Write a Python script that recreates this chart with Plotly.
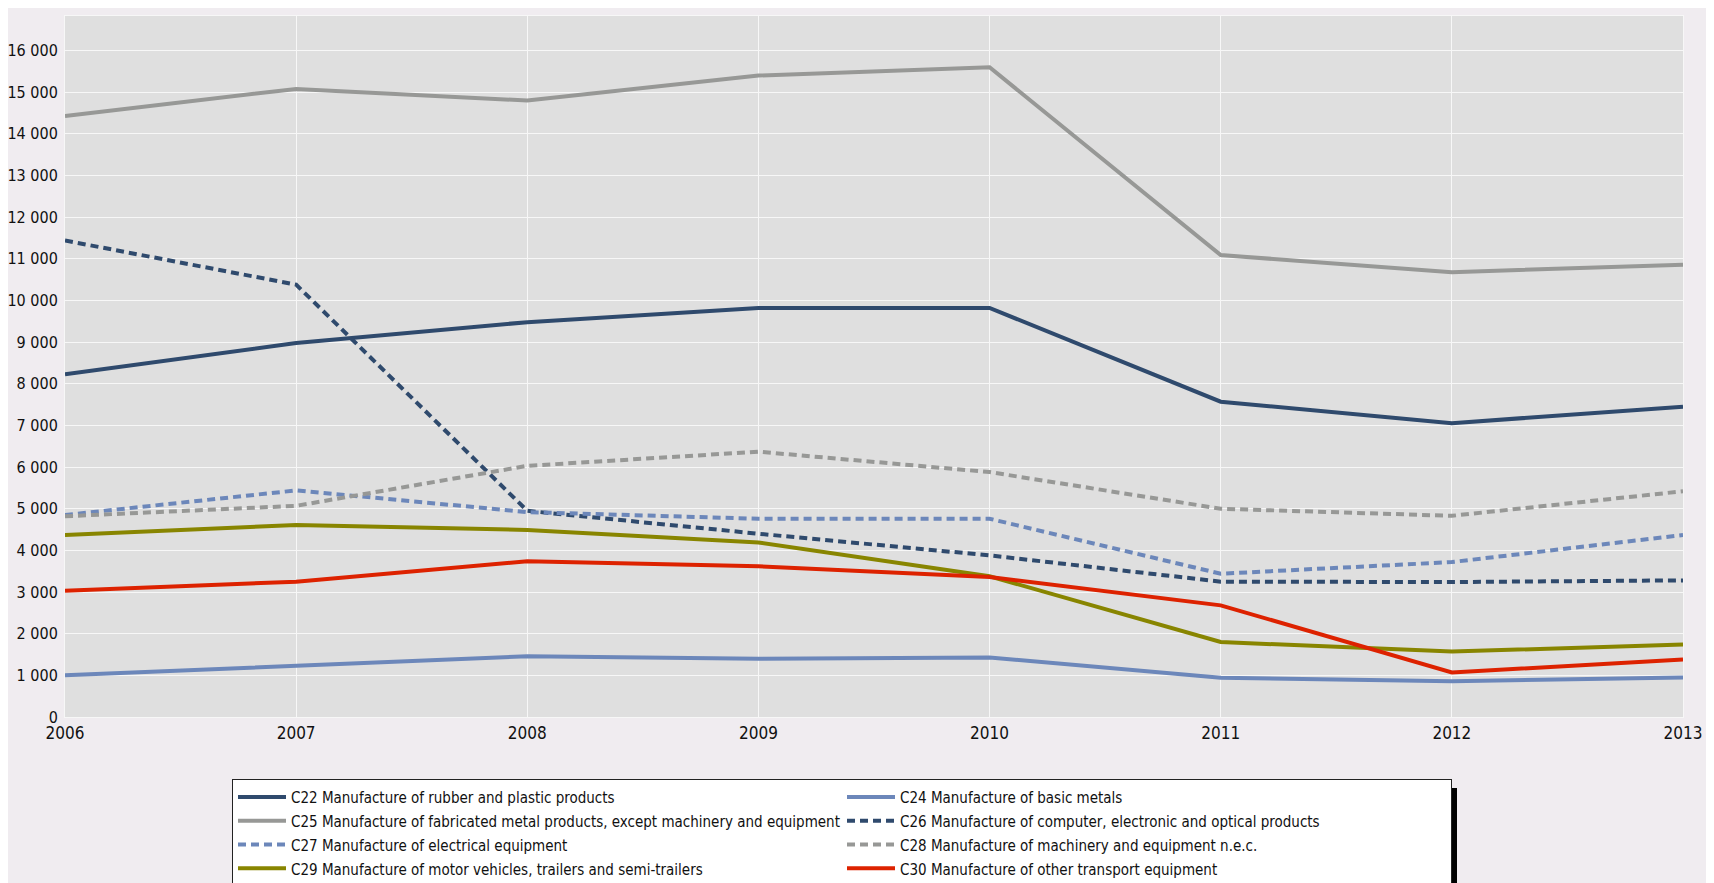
import plotly.graph_objects as go

years = [2006, 2007, 2008, 2009, 2010, 2011, 2012, 2013]

names = [
    "C22 Manufacture of rubber and plastic products",
    "C24 Manufacture of basic metals",
    "C25 Manufacture of fabricated metal products, except machinery and equipment",
    "C26 Manufacture of computer, electronic and optical products",
    "C27 Manufacture of electrical equipment",
    "C28 Manufacture of machinery and equipment n.e.c.",
    "C29 Manufacture of motor vehicles, trailers and semi-trailers",
    "C30 Manufacture of other transport equipment",
]

c22 = [8230, 8980, 9480, 9820, 9820, 7570, 7055, 7450]
c24 = [1000, 1220, 1460, 1400, 1430, 940, 860, 950]
c25 = [14430, 15080, 14800, 15400, 15600, 11090, 10680, 10860]
c26 = [11440, 10380, 4950, 4400, 3880, 3250, 3240, 3280]
c27 = [4850, 5440, 4920, 4760, 4760, 3440, 3720, 4370]
c28 = [4820, 5070, 6030, 6370, 5880, 5000, 4830, 5420]
c29 = [4370, 4610, 4490, 4190, 3380, 1800, 1570, 1740]
c30 = [3030, 3250, 3740, 3620, 3360, 2680, 1070, 1380]

series = [c22, c24, c25, c26, c27, c28, c29, c30]
colors = ["#2F4A6D", "#6C87BA", "#979896", "#2F4A6D", "#6C87BA", "#979896", "#888500", "#DD2200"]
dashes = ["solid", "solid", "solid", "8px,5px", "8px,5px", "8px,5px", "solid", "solid"]

# page body has an 8px margin, so figure pixel = screen pixel - 8
OFF = 8
W, H = 1698, 875
ML = 65 - OFF
MT = 16 - OFF
MR = W - (1683 - OFF)
MB = H - (717 - OFF)
PW, PH = W - ML - MR, H - MT - MB

def px(x):
    return (x - OFF - ML) / PW

def py(y):
    return (H - MB - (y - OFF)) / PH

FONT = "DejaVu Sans Condensed, DejaVu Sans, sans-serif"

fig = go.Figure()
for name, vals, col, d in zip(names, series, colors, dashes):
    fig.add_trace(go.Scatter(x=years, y=vals, mode="lines",
                             name='<span style="font-size:15px">' + name + '</span>',
                             line=dict(color=col, width=4, dash=d)))

shapes = [
    dict(type="rect", xref="paper", yref="paper", x0=px(1452), x1=px(1457), y0=py(900), y1=py(788),
         fillcolor="black", line=dict(width=0)),
]

fig.update_layout(
    width=W, height=H,
    margin=dict(l=ML, r=MR, t=MT, b=MB, pad=0, autoexpand=False),
    paper_bgcolor="#F0ECF0",
    plot_bgcolor="#DFDFDF",
    separators=". ",
    font=dict(family=FONT, size=16, color="#111111"),
    showlegend=True,
    shapes=shapes,
    legend=dict(
        orientation="h",
        xref="container", yref="container",
        x=(232 - OFF) / W, xanchor="left",
        y=1 - (779 - OFF) / H, yanchor="top",
        bgcolor="white", bordercolor="#222", borderwidth=1,
        entrywidth=546, entrywidthmode="pixels",
        itemwidth=48,
        font=dict(family=FONT, size=16, color="#111111"),
        tracegroupgap=0,
    ),
    xaxis=dict(
        range=[2006, 2013], tickvals=years, ticktext=[str(y) for y in years],
        showgrid=True, gridcolor="#F7F7F7", gridwidth=1, automargin=False,
        zeroline=False, showline=True, linecolor="#F7F7F7", linewidth=1, mirror=True,
        ticks="", ticklabelstandoff=1, tickfont=dict(family=FONT, size=17, color="#111111"),
    ),
    yaxis=dict(
        range=[0, 16830], tickvals=list(range(0, 17000, 1000)), tickformat=",d",
        showgrid=True, gridcolor="#F7F7F7", gridwidth=1, automargin=False,
        zeroline=False, showline=True, linecolor="#F7F7F7", linewidth=1, mirror=True,
        ticks="", ticklabelstandoff=3, tickfont=dict(family=FONT, size=16, color="#111111"),
    ),
)

fig.write_html("out.html")
